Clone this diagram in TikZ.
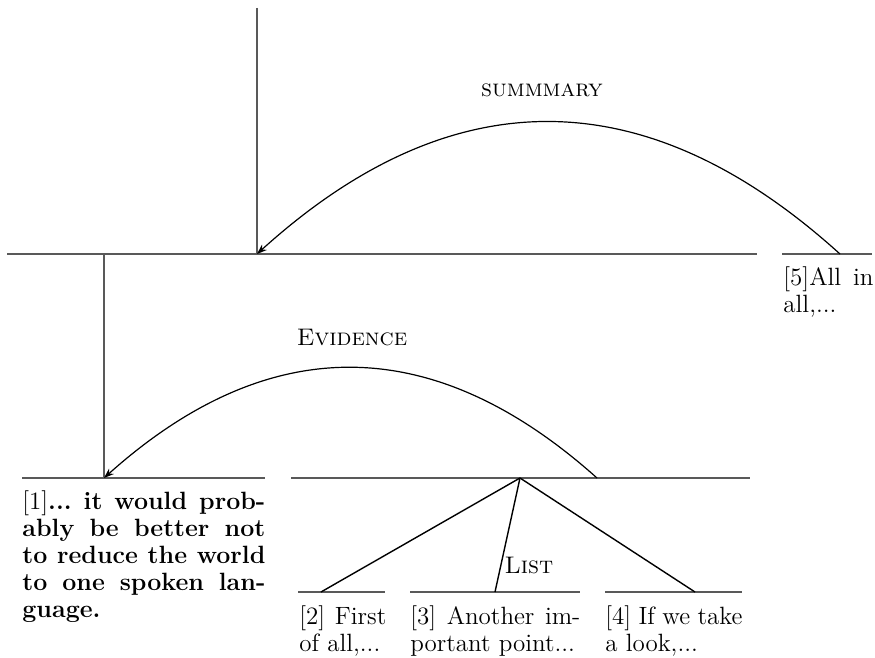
\documentclass[tikz,border=0pt]{standalone}
\usetikzlibrary{arrows.meta}
\begin{document}
\frenchspacing
\begin{tikzpicture}[x=0.5pt,y=-0.5pt,
  rule/.style={draw=black!65, line width=0.7pt},
  fan/.style={draw=black, line width=0.7pt},
  arcline/.style={draw=black, line width=0.6pt, -{Stealth[length=5pt,width=3.6pt]}},
  txt/.style={anchor=north west, inner sep=0pt, font=\fontsize{12.5}{13.6}\selectfont, align=justify},
  lbl/.style={inner sep=0pt, font=\fontsize{12}{13.6}\selectfont}]
\useasboundingbox (0,0) rectangle (875,658);
% coordinates
\coordinate (vtop) at (257,8);
\coordinate (vbot) at (257,254);
\coordinate (topL) at (7,254);
\coordinate (topR) at (757,254);
\coordinate (r5L) at (782,254);
\coordinate (r5R) at (872,254);
\coordinate (s5) at (840,254);
\coordinate (v2top) at (104,254);
\coordinate (v2bot) at (104,478);
\coordinate (l1L) at (22,478);
\coordinate (l1R) at (265,478);
\coordinate (midL) at (291,478);
\coordinate (midR) at (750,478);
\coordinate (evs) at (597,478);
\coordinate (apex) at (520,478);
\coordinate (b2L) at (298,592);
\coordinate (b2R) at (385,592);
\coordinate (b3L) at (410,592);
\coordinate (b3R) at (580,592);
\coordinate (b4L) at (605,592);
\coordinate (b4R) at (742,592);
\coordinate (f2) at (321,592);
\coordinate (f3) at (495,592);
\coordinate (f4) at (695,592);
% rules
\draw[rule] (vtop) -- (vbot);
\draw[rule] (topL) -- (topR);
\draw[rule] (r5L) -- (r5R);
\draw[rule] (v2top) -- (v2bot);
\draw[rule] (l1L) -- (l1R);
\draw[rule] (midL) -- (midR);
\draw[rule] (b2L) -- (b2R);
\draw[rule] (b3L) -- (b3R);
\draw[rule] (b4L) -- (b4R);
% arcs
\draw[arcline] (s5) .. controls (645.7,78) and (451.3,78) .. (vbot);
\draw[arcline] (evs) .. controls (432.7,331) and (268.3,331) .. (v2bot);
% fan
\draw[fan] (apex) -- (f2);
\draw[fan] (apex) -- (f3);
\draw[fan] (apex) -- (f4);
% labels
\node[lbl] (summary) at (542,90) {\textsc{summmary}};
\node[lbl] (evidence) at (352,338) {\textsc{Evidence}};
\node[lbl] (list) at (529,565) {\textsc{List}};
% texts
\node[txt, text width=121.5pt] (t1) at (22,490) {[1]\textbf{... it would prob-\linebreak ably be better not\linebreak to reduce the world\linebreak to one spoken lan-\linebreak guage.}};
\node[txt, text width=43.5pt] (t2) at (299,605) {[2] First\linebreak of all,...};
\node[txt, text width=85pt] (t3) at (410,605) {[3] Another im-\linebreak portant point...};
\node[txt, text width=68.5pt] (t4) at (605,605) {[4] If we take\linebreak a look,...};
\node[txt, text width=45pt] (t5) at (783,266) {[5]All in\linebreak all,...};
\end{tikzpicture}
\end{document}
